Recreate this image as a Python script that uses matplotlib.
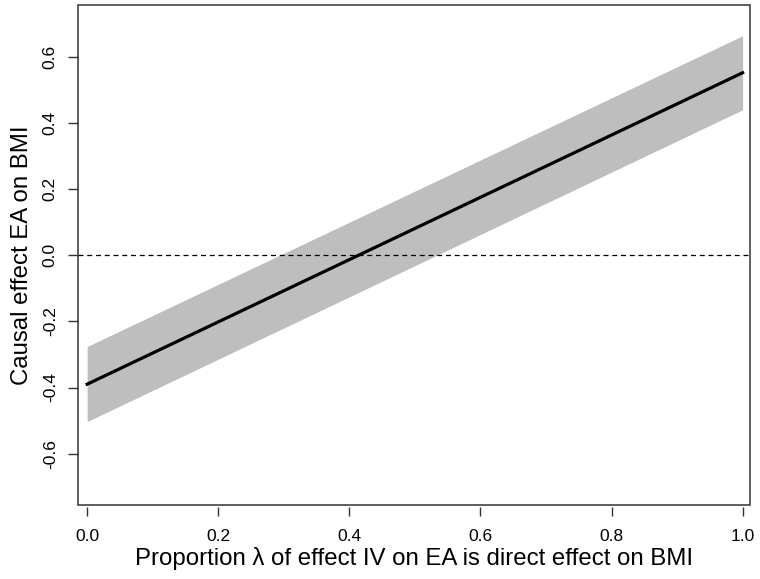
import matplotlib
matplotlib.use("Agg")
import matplotlib.pyplot as plt
from matplotlib.patches import Rectangle

plt.rcParams['font.family'] = ['Liberation Sans', 'DejaVu Sans']

# Data
lam = [0.0, 1.0]
estimate = [-0.390, 0.552]
lower = [-0.503, 0.440]
upper = [-0.276, 0.664]
xticks = [0.0, 0.2, 0.4, 0.6, 0.8, 1.0]
yticks = [-0.6, -0.4, -0.2, 0.0, 0.2, 0.4, 0.6]

fig = plt.figure(figsize=(7.6, 5.79), dpi=100)
ax = fig.add_axes([0.1026, 0.128, 0.884, 0.8634])

ax.fill_between(lam, lower, upper, color='#bebebe', linewidth=0, zorder=1)
ax.plot(lam, estimate, color='black', linewidth=2.3, zorder=3)
ax.axhline(0, color='black', linewidth=0.9, linestyle=(0, (4, 3)), zorder=2)

ax.set_xlim(-0.014, 1.011)
ax.set_ylim(-0.755, 0.757)
ax.set_xticks(xticks)
ax.set_xticklabels([f"{v:.1f}" for v in xticks])
ax.set_yticks(yticks)
ax.set_yticklabels([f"{v:.1f}" for v in yticks], rotation=90, va='center')

for s in ax.spines.values():
    s.set_edgecolor('none')
ax.spines['bottom'].set_position(('outward', 1.5))
ax.add_patch(Rectangle((0, 0), 1, 1, transform=ax.transAxes, fill=False,
                       edgecolor='#333333', linewidth=1.1, zorder=5, clip_on=False))

ax.tick_params(axis='both', direction='out', width=1, color='#333333',
               labelsize=12.5)
ax.tick_params(axis='x', length=6.5, pad=9.5)
ax.tick_params(axis='y', length=7.5, pad=7)

ax.set_xlabel("Proportion λ of effect IV on EA is direct effect on BMI", fontsize=17.3, labelpad=2)
ax.set_ylabel("Causal effect EA on BMI", fontsize=17.3, labelpad=7)

fig.savefig("out.png", dpi=100)
